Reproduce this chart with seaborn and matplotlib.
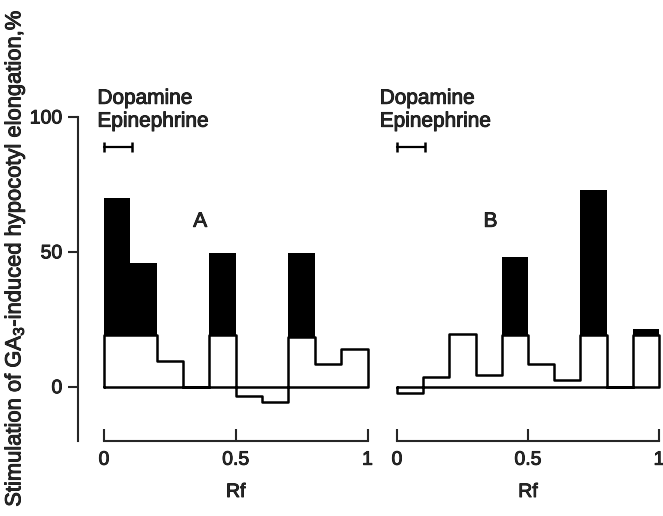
import numpy as np
import pandas as pd
import matplotlib
matplotlib.use("Agg")
import matplotlib.pyplot as plt
import matplotlib.transforms as mtransforms
import matplotlib.patheffects as pe
import seaborn as sns

# ---------------- data ----------------
rf_edges = [0.0, 0.1, 0.2, 0.3, 0.4, 0.5, 0.6, 0.7, 0.8, 0.9, 1.0]
rf_centers = [0.05, 0.15, 0.25, 0.35, 0.45, 0.55, 0.65, 0.75, 0.85, 0.95]
# level of the open (white) step histogram
a_open = [19, 19, 9.5, 0, 19, -3.5, -5.5, 18.5, 8.5, 14]
# top of the solid (black) part
a_top = [70, 46, 9.5, 0, 49.5, -3.5, -5.5, 49.5, 8.5, 14]
b_open = [-2.5, 3.5, 19.5, 4.5, 19, 8.5, 2.5, 19, 0, 19]
b_top = [-2.5, 3.5, 19.5, 4.5, 48, 8.5, 2.5, 73, 0, 21.5]
panel_labels = ["A", "B"]
marker_names = ["Dopamine", "Epinephrine"]
marker_range = [0.0, 0.105]
marker_level = [89, 89]
yticks = [0, 50, 100]
ytick_labels = ["0", "50", "100"]
xticks = [0, 0.5, 1]
xtick_labels = ["0", "0.5", "1"]
ylabel = r"Stimulation of GA$_{\mathregular{3}}$-induced hypocotyl elongation,%"
xlabel = "Rf"

# ---------------- style ----------------
sns.set_style("ticks")
plt.rcParams["font.family"] = ["Liberation Sans", "DejaVu Sans"]
plt.rcParams["mathtext.fontset"] = "custom"
plt.rcParams["mathtext.rm"] = "Liberation Sans"
plt.rcParams["mathtext.it"] = "Liberation Sans:italic"
plt.rcParams["mathtext.bf"] = "Liberation Sans:bold"

W, H = 663, 516
fig = plt.figure(figsize=(W / 100, H / 100), dpi=100)

y0_px, ppu_y = 386.7, 2.697
ylim = (-20, 110)
top_px = y0_px - ylim[1] * ppu_y
bot_px = y0_px - ylim[0] * ppu_y

heavy = [pe.withStroke(linewidth=0.6, foreground="black")]


def make_axes(x0_px, ppu_x, xlim):
    left = x0_px + xlim[0] * ppu_x
    right = x0_px + xlim[1] * ppu_x
    ax = fig.add_axes([left / W, 1 - bot_px / H, (right - left) / W, (bot_px - top_px) / H])
    ax.set_xlim(*xlim)
    ax.set_ylim(*ylim)
    ax.set_facecolor("none")
    return ax


axA = make_axes(104.0, 263.5, (-0.1, 1.02))
axB = make_axes(397.0, 262.0, (-0.02, 1.02))

LW = 1.8


def draw_panel(ax, open_vals, top_vals, label, text_x, label_x):
    df = pd.DataFrame({
        "rf": rf_centers,
        "open": open_vals,
        "solid": np.subtract(top_vals, open_vals),
    })
    sns.barplot(data=df, x="rf", y="solid", bottom=df["open"].to_numpy(),
                native_scale=True, width=1.0, color="black", saturation=1,
                errorbar=None, linewidth=0, ax=ax, zorder=2)
    # step outline of the open histogram, closed along the zero line
    sx, sy = [rf_edges[0]], [0]
    for i, v in enumerate(open_vals):
        sx += [rf_edges[i], rf_edges[i + 1]]
        sy += [v, v]
    sx += [rf_edges[-1], rf_edges[0]]
    sy += [0, 0]
    sns.lineplot(x=sx, y=sy, estimator=None, sort=False, color="black",
                 lw=LW, ax=ax, zorder=3, clip_on=False)
    # zone marker
    sns.lineplot(x=marker_range, y=marker_level, estimator=None, sort=False,
                 color="black", lw=1.6, marker="|", markersize=7,
                 markeredgewidth=1.8, markeredgecolor="black",
                 ax=ax, clip_on=False)
    ax.text(text_x, 104.9, marker_names[0], ha="left", va="baseline",
            fontsize=15, path_effects=heavy)
    ax.text(text_x, 96.4, marker_names[1], ha="left", va="baseline",
            fontsize=15, path_effects=heavy)
    ax.text(label_x, 59.3, label, ha="center", va="baseline", fontsize=15,
            path_effects=heavy)

    ax.set_xticks(xticks)
    ax.set_xticklabels(xtick_labels)
    ax.tick_params(axis="x", direction="in", length=8.5, width=1.5, pad=8,
                   labelsize=14, bottom=True)
    for t in ax.get_xticklabels():
        t.set_path_effects(heavy)
    ax.spines["bottom"].set_bounds(0, 1)
    ax.spines["bottom"].set_linewidth(1.5)
    ax.spines["top"].set_visible(False)
    ax.spines["right"].set_visible(False)
    ax.set_xlabel("")
    ax.set_ylabel("")
    # x-axis title
    trans = mtransforms.blended_transform_factory(ax.transData, fig.transFigure)
    ax.text(0.5, 1 - 497 / H, xlabel, transform=trans, ha="center",
            va="baseline", fontsize=14, path_effects=heavy)


draw_panel(axA, a_open, a_top, panel_labels[0], -0.025, 0.365)
draw_panel(axB, b_open, b_top, panel_labels[1], -0.066, 0.357)

axA.set_yticks(yticks)
axA.set_yticklabels(ytick_labels)
axA.tick_params(axis="y", direction="out", length=7, width=1.5, pad=4,
                labelsize=14, left=True)
for t in axA.get_yticklabels():
    t.set_path_effects(heavy)
axA.spines["left"].set_bounds(-20, 100)
axA.spines["left"].set_linewidth(1.5)

axB.spines["left"].set_visible(False)
axB.set_yticks([])

fig.text(15 / W, 1 - 257.5 / H, ylabel, rotation=90, ha="center", va="center",
         fontsize=15.8, path_effects=heavy)

fig.savefig("out.png", dpi=100)
